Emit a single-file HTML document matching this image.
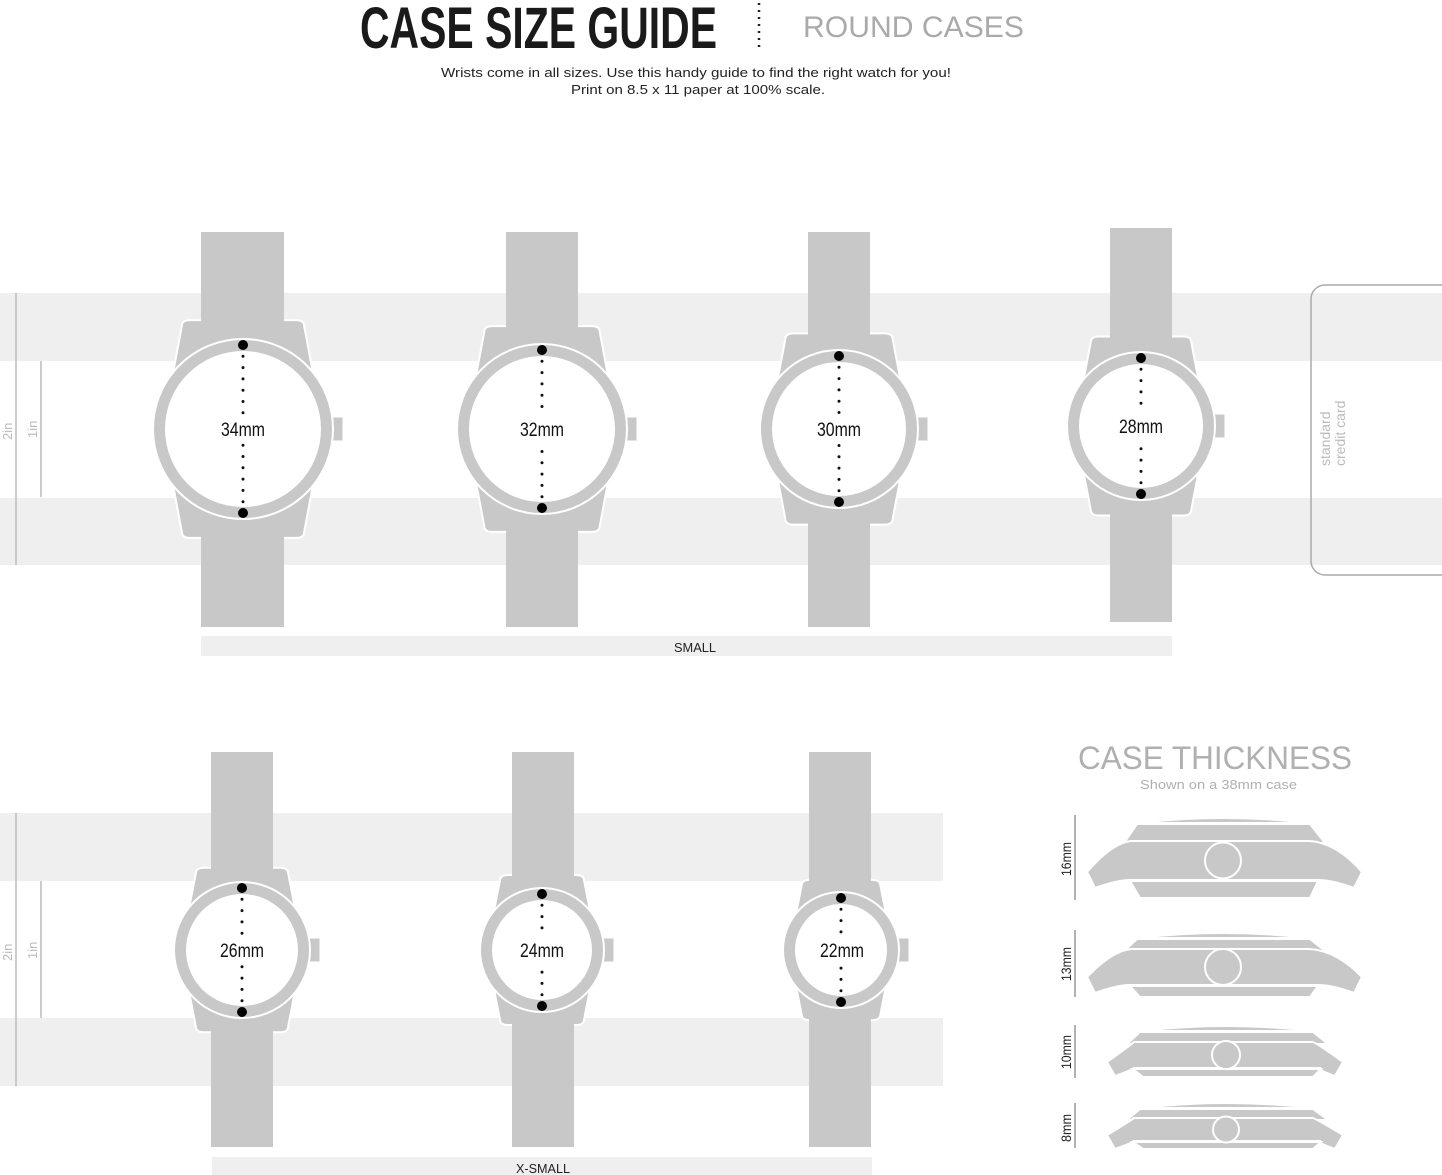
<!DOCTYPE html>
<html><head><meta charset="utf-8"><style>
html,body{margin:0;padding:0;background:#fff;}
svg{display:block;}
text{font-family:"Liberation Sans",sans-serif;}
</style></head><body>
<svg id="s" width="1442" height="1175" viewBox="0 0 1442 1175" xmlns="http://www.w3.org/2000/svg">
<!-- stripes -->
<rect x="0" y="293" width="1442" height="68" fill="#efefef"/>
<rect x="0" y="498" width="1442" height="67" fill="#efefef"/>
<rect x="0" y="813" width="943" height="68" fill="#efefef"/>
<rect x="0" y="1018" width="943" height="68" fill="#efefef"/>
<!-- credit card -->
<rect x="1311" y="285" width="160" height="290" rx="14" fill="none" stroke="#aaa" stroke-width="1.5"/>
<text transform="translate(1330,466) rotate(-90)" font-size="14" fill="#bbb">standard</text>
<text transform="translate(1345,466) rotate(-90)" font-size="14" fill="#bbb">credit card</text>
<!-- left marks -->
<g stroke="#bbb" stroke-width="1.5">
<line x1="16" y1="293" x2="16" y2="565"/><line x1="41" y1="361" x2="41" y2="497"/>
<line x1="16" y1="813" x2="16" y2="1086"/><line x1="41" y1="881" x2="41" y2="1018"/>
</g>
<g font-size="13" fill="#bbb">
<text transform="translate(12,440) rotate(-90)">2in</text>
<text transform="translate(37,438) rotate(-90)">1in</text>
<text transform="translate(12,961) rotate(-90)">2in</text>
<text transform="translate(37,959) rotate(-90)">1in</text>
</g>
<!-- bars -->
<rect x="201" y="636" width="971" height="20" fill="#efefef"/>
<text x="695" y="652" font-size="13" text-anchor="middle" textLength="42" lengthAdjust="spacingAndGlyphs" fill="#222">SMALL</text>
<rect x="212" y="1157" width="660" height="20" fill="#efefef"/>
<text x="543" y="1173" font-size="13" text-anchor="middle" textLength="54" lengthAdjust="spacingAndGlyphs" fill="#222">X-SMALL</text>
<g id="watches"></g>
<g id="thick"></g>
<!-- labels in watches -->
<g font-size="19" fill="#111" text-anchor="middle">
<text x="243" y="436" textLength="44" lengthAdjust="spacingAndGlyphs">34mm</text>
<text x="542" y="436" textLength="44" lengthAdjust="spacingAndGlyphs">32mm</text>
<text x="839" y="436" textLength="44" lengthAdjust="spacingAndGlyphs">30mm</text>
<text x="1141" y="433" textLength="44" lengthAdjust="spacingAndGlyphs">28mm</text>
<text x="242" y="957" textLength="44" lengthAdjust="spacingAndGlyphs">26mm</text>
<text x="542" y="957" textLength="44" lengthAdjust="spacingAndGlyphs">24mm</text>
<text x="842" y="957" textLength="44" lengthAdjust="spacingAndGlyphs">22mm</text>
</g>
<!-- header -->
<text x="360" y="48" font-size="58" font-weight="bold" fill="#1a1a1a" textLength="357" lengthAdjust="spacingAndGlyphs">CASE SIZE GUIDE</text>
<line x1="759" y1="3" x2="759" y2="48" stroke="#222" stroke-width="2.5" stroke-dasharray="2 5"/>
<text x="803" y="37" font-size="30" fill="#aaa" textLength="221" lengthAdjust="spacingAndGlyphs">ROUND CASES</text>
<text x="696" y="77" font-size="13" fill="#222" text-anchor="middle" textLength="510" lengthAdjust="spacingAndGlyphs">Wrists come in all sizes. Use this handy guide to find the right watch for you!</text>
<text x="698" y="94" font-size="13" fill="#222" text-anchor="middle" textLength="254" lengthAdjust="spacingAndGlyphs">Print on 8.5 x 11 paper at 100% scale.</text>
<text x="1078" y="769" font-size="32" fill="#b0b0b0" textLength="274" lengthAdjust="spacingAndGlyphs">CASE THICKNESS</text>
<text x="1140" y="789" font-size="13" fill="#b0b0b0" textLength="157" lengthAdjust="spacingAndGlyphs">Shown on a 38mm case</text>
<g stroke="#999" stroke-width="1.5">
<line x1="1075" y1="815" x2="1075" y2="900"/><line x1="1075" y1="930" x2="1075" y2="997"/>
<line x1="1075" y1="1025" x2="1075" y2="1078"/><line x1="1075" y1="1103" x2="1075" y2="1148"/>
</g>
<g font-size="14" fill="#222">
<text transform="translate(1071,876) rotate(-90)" textLength="34" lengthAdjust="spacingAndGlyphs">16mm</text>
<text transform="translate(1071,981) rotate(-90)" textLength="34" lengthAdjust="spacingAndGlyphs">13mm</text>
<text transform="translate(1071,1069) rotate(-90)" textLength="34" lengthAdjust="spacingAndGlyphs">10mm</text>
<text transform="translate(1071,1142) rotate(-90)" textLength="28" lengthAdjust="spacingAndGlyphs">8mm</text>
</g>
</svg>
<script>
var NS="http://www.w3.org/2000/svg";
function el(p,t,a){var e=document.createElementNS(NS,t);for(var k in a)e.setAttribute(k,a[k]);p.appendChild(e);return e;}
var G="#c8c8c8",W=document.getElementById("watches");
function watch(cx,cy,R,sl,sr,st,sb){
 var lt=cy-1.21*R, lb=cy+1.21*R, a=0.68*R, b=0.8*R;
 el(W,"path",{d:"M"+(cx-a)+","+(lt+6)+" Q"+(cx-a)+","+lt+" "+(cx-a+8)+","+lt+" L"+(cx+a-8)+","+lt+" Q"+(cx+a)+","+lt+" "+(cx+a)+","+(lt+6)+" L"+(cx+b)+","+(cy-0.5*R)+" L"+(cx+b)+","+(cy+0.5*R)+" L"+(cx+a)+","+(lb-6)+" Q"+(cx+a)+","+lb+" "+(cx+a-8)+","+lb+" L"+(cx-a+8)+","+lb+" Q"+(cx-a)+","+lb+" "+(cx-a)+","+(lb-6)+" L"+(cx-b)+","+(cy+0.5*R)+" L"+(cx-b)+","+(cy-0.5*R)+" Z",fill:G,stroke:"#fff","stroke-width":2});
 el(W,"rect",{x:sl,y:st,width:sr-sl,height:sb-st,fill:G});
 el(W,"rect",{x:cx+R-1,y:cy-12,width:11,height:24,fill:G,stroke:"#fff","stroke-width":1});
 el(W,"circle",{cx:cx,cy:cy,r:R,fill:G,stroke:"#fff","stroke-width":2});
 el(W,"circle",{cx:cx,cy:cy,r:R-12,fill:"#fff"});
 var d=R-6;
 el(W,"line",{x1:cx,y1:cy-d,x2:cx,y2:cy-16,stroke:"#111","stroke-width":3,"stroke-linecap":"round","stroke-dasharray":"0 11.3"});
 el(W,"line",{x1:cx,y1:cy+d,x2:cx,y2:cy+16,stroke:"#111","stroke-width":3,"stroke-linecap":"round","stroke-dasharray":"0 11.3"});
 el(W,"circle",{cx:cx,cy:cy-d,r:5,fill:"#000"});
 el(W,"circle",{cx:cx,cy:cy+d,r:5,fill:"#000"});
}
watch(243,429,90,201,284,232,627);
watch(542,429,85,506,578,232,627);
watch(839,429,79,808,870,232,627);
watch(1141,426,74,1110,1172,228,622);
watch(242,950,68,211,273,752,1147);
watch(542,950,62,512,574,752,1147);
watch(841,950,58,809,871,752,1147);
var T=document.getElementById("thick");
function prof(y0,capH,bezH,bodH,botH,xl,xr,cx,r,tip){
 var st={fill:G,stroke:"#fff","stroke-width":2};
 el(T,"path",Object.assign({d:"M"+(cx-85)+","+(y0+capH)+" Q"+cx+","+(y0-3)+" "+(cx+87)+","+(y0+capH)+" Z"},st));
 var yb=y0+capH+1;
 el(T,"path",Object.assign({d:"M"+(cx-86)+","+yb+" L"+(cx+87)+","+yb+" L"+(cx+102)+","+(yb+bezH)+" L"+(cx-99)+","+(yb+bezH)+" Z"},st));
 var y1=yb+bezH-2,y2=y1+bodH;
 el(T,"path",Object.assign({d:"M"+(cx-92)+","+y1+" L"+(cx+87)+","+y1+" Q"+(xr-25)+","+(y1+2)+" "+xr+","+(y2-tip)+" L"+(xr-8)+","+(y2+8)+" Q"+(xr-30)+","+y2+" "+(cx+95)+","+y2+" L"+(cx-93)+","+y2+" Q"+(xl+30)+","+y2+" "+(xl+8)+","+(y2+8)+" L"+xl+","+(y2-tip)+" Q"+(xl+25)+","+(y1+2)+" "+(cx-92)+","+y1+" Z"},st));
 el(T,"path",Object.assign({d:"M"+(cx-93)+","+(y2+1)+" L"+(cx+95)+","+(y2+1)+" L"+(cx+87)+","+(y2+1+botH)+" L"+(cx-83)+","+(y2+1+botH)+" Z"},st));
 el(T,"circle",{cx:cx,cy:(y1+y2)/2,r:r,fill:G,stroke:"#fff","stroke-width":2});
}
prof(816,7,19,39,17,1087,1362,1223,18,8);
prof(931,7,12,36,11,1087,1362,1223,18,8);
prof(1024,7,12,26,8,1107,1343,1226,14,6);
prof(1101,7,11,23,7,1107,1343,1226,13,6);
</script>
</body></html>
